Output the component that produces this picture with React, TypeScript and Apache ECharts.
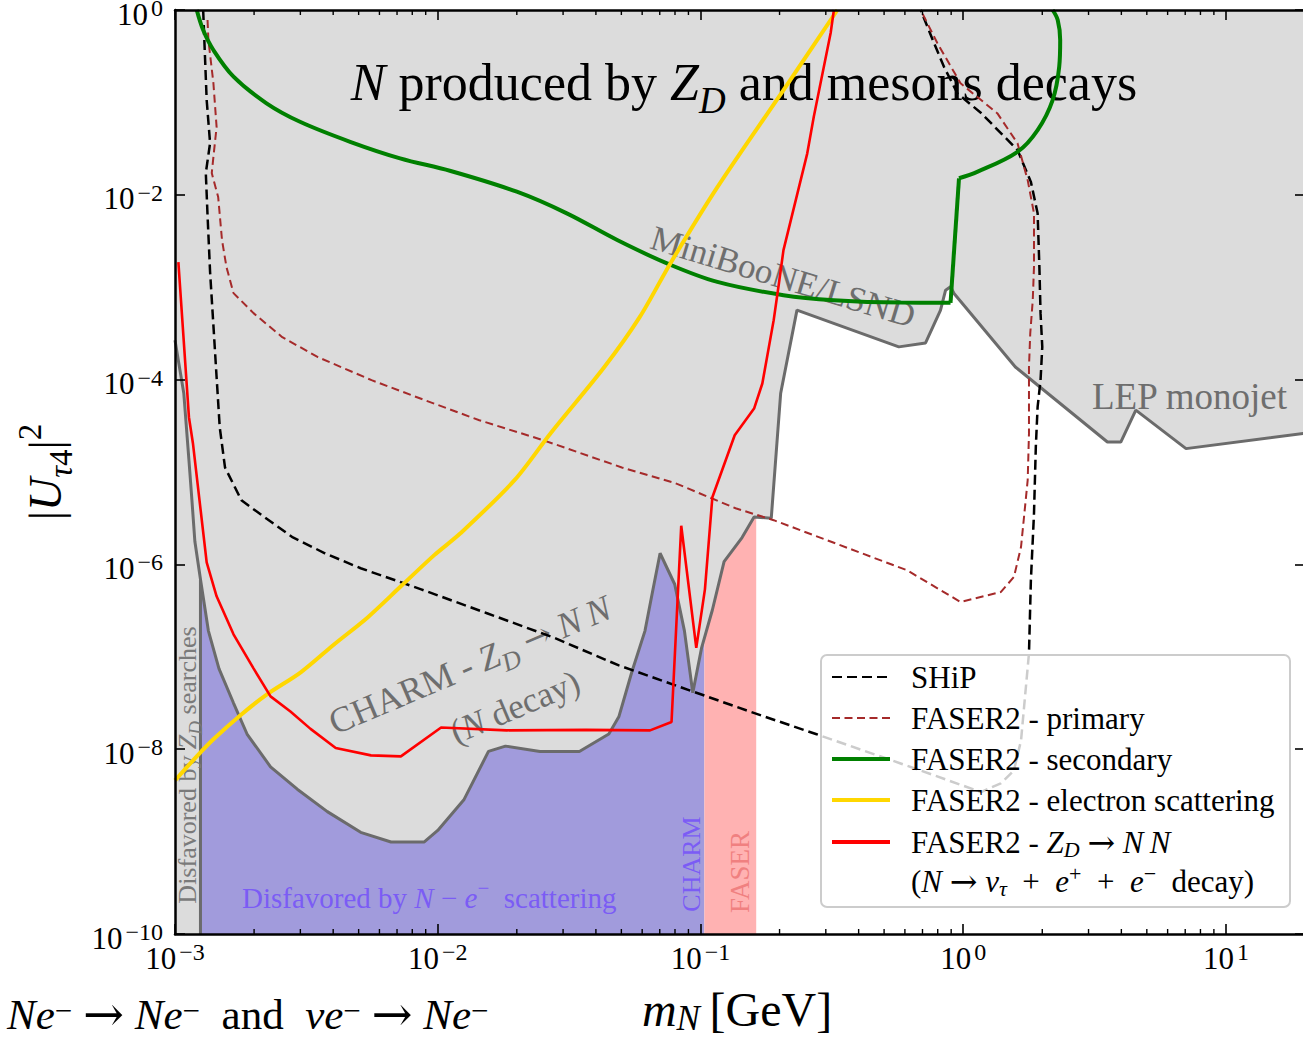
import React, { useEffect, useRef } from "react";
import * as echarts from "echarts";

const FONT = '"Liberation Serif", "DejaVu Serif", "Times New Roman", serif';
const ARROW_FONT = '"DejaVu Serif", "DejaVu Sans", serif';

// ---------------- axes ----------------
const xRange = [1e-3, 20];
const yRange = [1e-10, 1];
const xTickExponents = [-3, -2, -1, 0, 1];
const yTickExponents = [-10, -8, -6, -4, -2, 0];
const xMinorTicks = [
  2e-3, 3e-3, 4e-3, 5e-3, 6e-3, 7e-3, 8e-3, 9e-3,
  2e-2, 3e-2, 4e-2, 5e-2, 6e-2, 7e-2, 8e-2, 9e-2,
  0.2, 0.3, 0.4, 0.5, 0.6, 0.7, 0.8, 0.9,
  2, 3, 4, 5, 6, 7, 8, 9,
];

// ---------------- excluded region boundary (gray) ----------------
const boundaryM = [
  1.0e-3, 1.08e-3, 1.13e-3, 1.16e-3, 1.19e-3, 1.25e-3, 1.34e-3, 1.47e-3, 1.67e-3, 1.88e-3,
  2.31e-3, 2.92e-3, 3.8e-3, 5.09e-3, 6.64e-3, 8.89e-3, 1.0e-2, 1.26e-2, 1.56e-2, 1.81e-2,
  2.45e-2, 3.46e-2, 4.48e-2, 4.89e-2, 5.48e-2, 6.15e-2, 6.52e-2, 7.02e-2, 7.98e-2, 8.69e-2,
  9.35e-2, 1.01e-1, 1.11e-1, 1.23e-1, 1.44e-1, 1.6e-1, 1.86e-1, 2.02e-1, 2.33e-1, 5.69e-1,
  7.19e-1, 8.2e-1, 8.57e-1, 8.95e-1, 9.23e-1, 1.58, 3.54, 3.98, 4.54, 7.05, 20,
];
const boundaryU = [
  2.67e-4, 7.13e-5, 1.34e-5, 4.94e-6, 1.78e-6, 6.9e-7, 1.91e-7, 7.45e-8, 3.16e-8, 1.46e-8,
  6.44e-9, 3.69e-9, 2.11e-9, 1.26e-9, 9.91e-10, 9.91e-10, 1.32e-9, 2.86e-9, 9.46e-9, 1.08e-8,
  9.46e-9, 9.46e-9, 1.46e-8, 2.24e-8, 6.84e-8, 1.91e-7, 4.52e-7, 1.32e-6, 6.1e-7, 1.91e-7,
  4.09e-8, 1.25e-7, 3.21e-7, 1.07e-6, 1.95e-6, 3.25e-6, 3.16e-6, 7.13e-5, 5.65e-4, 2.26e-4,
  2.49e-4, 5.65e-4, 9.29e-4, 1.01e-3, 8.55e-4, 1.37e-4, 2.11e-5, 2.11e-5, 4.67e-5, 1.79e-5, 2.63e-5,
];
// edges of the shaded bands below the boundary
const zdEdge = [1.25e-3, 6.9e-7];
const charmEdge = [1.035e-1, 1.64e-7];
const faserEdge = [1.63e-1, 3.25e-6];

// ---------------- sensitivity curves ----------------
const shipM = [
  1.28e-3, 1.32e-3, 1.36e-3, 1.31e-3, 1.33e-3, 1.36e-3, 1.4e-3, 1.44e-3, 1.48e-3, 1.55e-3,
  1.79e-3, 2.19e-3, 2.81e-3, 3.72e-3, 5.09e-3, 6.55e-3, 8.65e-3, 1.54e-2, 2.74e-2, 4.89e-2,
  9.23e-2, 1.55e-1, 2.75e-1, 5.78e-1, 1.17, 1.39, 1.56, 1.66, 1.78, 1.81,
  1.86, 1.89, 1.92, 1.97, 2.0, 1.97, 1.95, 1.92, 1.81, 1.61,
  1.17, 9.51e-1, 8.45e-1, 7.74e-1, 6.89e-1,
];
const shipU = [
  1, 1.06e-1, 3.63e-2, 1.72e-2, 6.03e-3, 1.46e-3, 3.88e-4, 1.06e-4, 3.05e-5, 1.12e-5,
  4.94e-6, 3.24e-6, 1.96e-6, 1.32e-6, 9.08e-7, 7.08e-7, 5.37e-7, 2.96e-7, 1.63e-7, 8.07e-8,
  4.27e-8, 2.54e-8, 1.46e-8, 7.01e-9, 3.44e-9, 4.27e-9, 5.89e-9, 1.24e-8, 1.09e-7, 6.73e-7,
  3.55e-6, 1.87e-5, 5.06e-5, 9.86e-5, 2.26e-4, 5.24e-4, 1.66e-3, 6.3e-3, 1.38e-2, 3.05e-2,
  7.67e-2, 1.25e-1, 2.43e-1, 4.4e-1, 1,
];

const primM = [
  1.33e-3, 1.34e-3, 1.4e-3, 1.44e-3, 1.4e-3, 1.38e-3, 1.46e-3, 1.51e-3, 1.57e-3, 1.67e-3,
  1.99e-3, 2.56e-3, 3.5e-3, 5.6e-3, 8.95e-3, 1.44e-2, 2.52e-2, 5.02e-2, 8.04e-2, 1.36e-1,
  1.9e-1, 6.12e-1, 9.77e-1, 1.39, 1.56, 1.66, 1.76, 1.78, 1.78, 1.8,
  1.84, 1.86, 1.86, 1.76, 1.61, 1.35, 9.77e-1, 7.98e-1, 6.89e-1,
];
const primU = [
  7.8e-1, 4.73e-1, 1.62e-1, 5.41e-2, 2.56e-2, 1.72e-2, 9.44e-3, 3.23e-3, 1.65e-3, 8.63e-4,
  5.24e-4, 2.88e-4, 1.75e-4, 9.86e-5, 5.98e-5, 3.63e-5, 2.21e-5, 1.12e-5, 7.55e-6, 4.05e-6,
  3.01e-6, 8.63e-7, 3.92e-7, 5.02e-7, 7.31e-7, 1.54e-6, 8.15e-6, 2.61e-5, 1.37e-4, 3.16e-4,
  7.24e-4, 1.66e-3, 6.3e-3, 1.44e-2, 3.61e-2, 7.6e-2, 1.61e-1, 4.36e-1, 1,
];

// secondary: smooth arc, then the straight rise at ~0.9 GeV, then the upper-right arc
const secArcM = [
  1.21e-3, 1.28e-3, 1.4e-3, 1.67e-3, 2.23e-3, 2.99e-3, 4.64e-3, 7.19e-3, 1.12e-2, 2.0e-2,
  3.1e-2, 4.82e-2, 7.46e-2, 1.16e-1, 2.07e-1, 3.22e-1, 5.78e-1, 8.95e-1,
];
const secArcU = [
  1, 6.07e-1, 3.69e-1, 1.9e-1, 9.77e-2, 6.17e-2, 3.75e-2, 2.48e-2, 1.81e-2, 1.08e-2,
  6.3e-3, 3.24e-3, 1.81e-3, 1.14e-3, 8.2e-4, 7.24e-4, 6.81e-4, 6.78e-4,
];
const secRiseM = [8.95e-1, 9.64e-1];
const secRiseU = [6.78e-4, 1.51e-2];
const secLoopM = [9.64e-1, 1.13, 1.61, 1.92, 2.19, 2.32, 2.34, 2.29, 2.19];
const secLoopU = [1.51e-2, 1.77e-2, 2.92e-2, 5.02e-2, 1.06e-1, 2.43e-1, 4.73e-1, 7.8e-1, 1];

const elecM = [
  1.0e-3, 1.21e-3, 1.4e-3, 1.77e-3, 2.24e-3, 3.01e-3, 4.03e-3, 5.41e-3, 7.24e-3, 9.7e-3,
  1.22e-2, 1.96e-2, 2.69e-2, 4.3e-2, 5.87e-2, 7.69e-2, 1.16e-1, 2.07e-1, 3.32e-1,
];
const elecU = [
  4.59e-9, 8.36e-9, 1.28e-8, 2.32e-8, 3.92e-8, 6.79e-8, 1.36e-7, 2.67e-7, 5.79e-7, 1.26e-6,
  2.17e-6, 8.15e-6, 2.63e-5, 1.36e-4, 4.74e-4, 1.82e-3, 1.21e-2, 1.36e-1, 1,
];

const zdnnM = [
  1.03e-3, 1.13e-3, 1.17e-3, 1.32e-3, 1.44e-3, 1.67e-3, 1.99e-3, 2.31e-3, 2.75e-3, 3.28e-3,
  4.09e-3, 5.57e-3, 7.24e-3, 1.03e-2, 1.83e-2, 3.66e-2, 6.43e-2, 7.76e-2, 8.45e-2, 9.64e-2,
  1.04e-1, 1.11e-1, 1.35e-1, 1.6e-1, 1.72e-1, 1.9e-1, 1.99e-1, 2.07e-1, 2.55e-1, 2.7e-1,
  3.13e-1, 3.22e-1,
];
const zdnnU = [
  1.87e-3, 3.92e-5, 2.05e-5, 1.05e-6, 4.52e-7, 1.75e-7, 7.5e-8, 3.73e-8, 2.56e-8, 1.66e-8,
  1.03e-8, 8.57e-9, 8.36e-9, 1.72e-8, 1.6e-8, 1.62e-8, 1.6e-8, 1.97e-8, 2.62e-6, 1.25e-7,
  5.37e-7, 5.33e-6, 2.5e-5, 4.86e-5, 9.08e-5, 4.4e-4, 1.11e-3, 2.52e-3, 2.81e-2, 7.0e-2,
  5.64e-1, 1,
];

const legendLabels = [
  "{r|SHiP}",
  "{r|FASER2 - primary}",
  "{r|FASER2 - secondary}",
  "{r|FASER2 - electron scattering}",
  "{r|FASER2 - }{i|Z}{sb|D}{r| }{ar|\u2192}{r| }{i|N\u2009N}",
];
const legendExtraLine =
  "{r|(}{i|N}{r| }{ar|\u2192}{r| }{i|\u03bd}{sb|\u03c4}{r|  +  }{i|e}{sp|+}{r|  +  }{i|e}{sp|\u2212}{r|  decay)}";

// ---------------- styles ----------------
const C = {
  grayFill: "#dcdcdc",
  grayLine: "#6b6b6b",
  purple: "#a19bdc",
  pink: "#ffb2b2",
  ship: "#000000",
  prim: "#a52a2a",
  sec: "#008000",
  elec: "#ffd700",
  red: "#ff0000",
  grayText: "#6e6e6e",
  violetText: "#7b5cf5",
  coralText: "#f08080",
};

const pts = (ms: number[], us: number[]) => ms.map((m, i) => [m, us[i]]);
const supTxt = (e: number) => (e < 0 ? "\u2212" + -e : String(e));

function mathRich(fs: number, fill: string, lhf = 1.4, arScale = 0.95) {
  const lh = Math.round(fs * lhf);
  const small = Math.round(fs * 0.72);
  const slh = Math.round(fs * 0.8);
  return {
    r: { fontFamily: FONT, fontSize: fs, lineHeight: lh, fill },
    i: { fontFamily: FONT, fontSize: fs, fontStyle: "italic", lineHeight: lh, fill },
    ar: { fontFamily: ARROW_FONT, fontSize: Math.round(fs * arScale), lineHeight: lh, fill },
    sb: { fontFamily: FONT, fontSize: small, fontStyle: "italic", lineHeight: slh, verticalAlign: "bottom", fill },
    sbr: { fontFamily: FONT, fontSize: small, lineHeight: slh, verticalAlign: "bottom", fill },
    sp: { fontFamily: FONT, fontSize: small, lineHeight: slh, verticalAlign: "top", fill },
  };
}

function textEl(x: number, y: number, text: string, fs: number, fill: string, opts: any = {}) {
  return {
    type: "text",
    x,
    y,
    rotation: opts.rotation || 0,
    z: opts.z ?? 3,
    silent: true,
    style: {
      text,
      fill,
      fontFamily: FONT,
      fontSize: fs,
      align: opts.align || "center",
      verticalAlign: "middle",
      rich: mathRich(fs, fill, opts.lhf || 1.4, opts.arScale || 0.95),
    },
  };
}

function lineSeries(name: string, data: number[][], color: string, width: number, dash: any, z: number, extra: any = {}) {
  return {
    type: "line",
    name,
    data,
    xAxisIndex: 0,
    yAxisIndex: 0,
    symbol: "none",
    showSymbol: false,
    silent: true,
    z,
    lineStyle: { color, width, type: dash || "solid" },
    ...extra,
  };
}

function fillSeries(name: string, data: number[][], color: string, origin: string) {
  return {
    type: "line",
    name,
    data,
    xAxisIndex: 0,
    yAxisIndex: 0,
    symbol: "none",
    showSymbol: false,
    silent: true,
    z: 1,
    lineStyle: { width: 0, opacity: 0 },
    areaStyle: { color, opacity: 1, origin },
  };
}

const tickRich = {
  n: { fontFamily: FONT, fontSize: 31, lineHeight: 36, color: "#000" },
  s: { fontFamily: FONT, fontSize: 24, lineHeight: 23, verticalAlign: "top", color: "#000", padding: [0, 0, 0, 3] },
};

function helperX(position: string, labels: boolean) {
  return {
    type: "value",
    position,
    min: xTickExponents[0],
    max: Math.log10(xRange[1]),
    interval: 1,
    z: 10,
    axisLine: { show: true, onZero: false, lineStyle: { color: "#000", width: 2.5 } },
    axisTick: { show: true, inside: true, length: 10, lineStyle: { color: "#000", width: 1.6 } },
    splitLine: { show: false },
    axisLabel: {
      show: labels,
      margin: 6,
      showMaxLabel: false,
      showMinLabel: true,
      formatter: (v: number) => `{n|10}{s|${supTxt(Math.round(v))}}`,
      rich: tickRich,
    },
  };
}

function helperY(position: string, labels: boolean) {
  return {
    type: "value",
    position,
    min: yTickExponents[0],
    max: yTickExponents[yTickExponents.length - 1],
    interval: yTickExponents[1] - yTickExponents[0],
    z: 10,
    axisLine: { show: true, onZero: false, lineStyle: { color: "#000", width: 2.5 } },
    axisTick: { show: true, inside: true, length: 10, lineStyle: { color: "#000", width: 1.6 } },
    splitLine: { show: false },
    axisLabel: {
      show: labels,
      margin: 12,
      padding: [8, 0, 0, 0],
      showMaxLabel: true,
      showMinLabel: true,
      formatter: (v: number) => `{n|10}{s|${supTxt(Math.round(v))}}`,
      rich: tickRich,
    },
  };
}

function buildOption() {
  const boundary = pts(boundaryM, boundaryU);
  const purpleData = [
    ...boundary.filter(([m]) => m >= zdEdge[0] && m < charmEdge[0]),
    charmEdge,
  ];
  const pinkData = [
    charmEdge,
    ...boundary.filter(([m]) => m > charmEdge[0] && m < faserEdge[0]),
    faserEdge,
  ];
  const zdStrip = [
    [xRange[0], yRange[1]],
    [zdEdge[0], yRange[1]],
  ];
  const zdLine = [zdEdge, [zdEdge[0], yRange[0]]];

  const styles = [
    { color: C.ship, width: 2.5, dash: [10, 5] },
    { color: C.prim, width: 2, dash: [8, 4.5] },
    { color: C.sec, width: 4, dash: null },
    { color: C.elec, width: 4, dash: null },
    { color: C.red, width: 2.6, dash: null },
  ];

  const legendRowsY = [677, 718, 759, 800, 842];
  const legendEls: any[] = [
    {
      type: "rect",
      z: 20,
      silent: true,
      shape: { x: 821, y: 655, width: 469, height: 252, r: 6 },
      style: { fill: "rgba(255,255,255,0.8)", stroke: "#cccccc", lineWidth: 2 },
    },
  ];
  styles.forEach((s, i) => {
    legendEls.push({
      type: "line",
      z: 21,
      silent: true,
      shape: { x1: 832, y1: legendRowsY[i], x2: 890, y2: legendRowsY[i] },
      style: { stroke: s.color, lineWidth: s.dash ? 2.2 : 4, lineDash: s.dash || null },
    });
    legendEls.push(textEl(911, legendRowsY[i], legendLabels[i], 31, "#000", { align: "left", z: 21, lhf: 1.2, arScale: 1.05 }));
  });
  legendEls.push(textEl(911, 881, legendExtraLine, 31, "#000", { align: "left", z: 21, lhf: 1.2, arScale: 1.05 }));

  const annotations = [
    textEl(744, 82, "{i|N}{r| produced by }{i|Z}{sb|D}{r| and mesons decays}", 52, "#000"),
    textEl(783, 277, "{r|MiniBooNE/LSND}", 35, C.grayText, { rotation: (-16.9 * Math.PI) / 180 }),
    textEl(1092, 396, "{r|LEP monojet}", 37, C.grayText, { align: "left" }),
    textEl(470, 665, "{r|CHARM - }{i|Z}{sb|D}{r| }{ar|\u2192}{r| }{i|N\u2009N}", 36, C.grayText, { rotation: (22.9 * Math.PI) / 180 }),
    textEl(515, 707, "{r|(}{i|N}{r| decay)}", 35, C.grayText, { rotation: (22.9 * Math.PI) / 180 }),
    textEl(187, 765, "{r|Disfavored by }{i|Z}{sb|D}{r| searches}", 26, "#7a7a7a", { rotation: Math.PI / 2 }),
    textEl(242, 898, "{r|Disfavored by }{i|N}{r| \u2212 }{i|e}{sp|\u2212}{r|  scattering}", 29, C.violetText, { align: "left" }),
    textEl(691, 864, "{r|CHARM}", 26, C.violetText, { rotation: Math.PI / 2 }),
    textEl(740, 872, "{r|FASER}", 27, C.coralText, { rotation: Math.PI / 2 }),
    // axis titles
    textEl(45, 472, "{r||}{i|U}{sb|\u03c4}{sbr|4}{r||}{sp|2}", 46, "#000", { rotation: Math.PI / 2, z: 12 }),
    textEl(737, 1009, "{i|m}{sb|N}{r|\u2009[GeV]}", 48, "#000", { z: 12, lhf: 1.1 }),
    textEl(
      7,
      1014,
      "{i|Ne}{sp|\u2212}{r| }{ar|\u2192}{r| }{i|Ne}{sp|\u2212}{r|  and  }{i|\u03bde}{sp|\u2212}{r| }{ar|\u2192}{r| }{i|Ne}{sp|\u2212}",
      43,
      "#000",
      { align: "left", z: 12, lhf: 0.9, arScale: 1.15 }
    ),
  ];

  return {
    animation: false,
    backgroundColor: "#ffffff",
    grid: { left: 175, top: 10, right: -2, bottom: 105, containLabel: false, outerBoundsMode: "none" },
    xAxis: [
      { type: "log", logBase: 10, min: xRange[0], max: xRange[1], show: false, position: "bottom" },
      helperX("bottom", true),
      helperX("top", false),
    ],
    yAxis: [
      { type: "log", logBase: 10, min: yRange[0], max: yRange[1], show: false, position: "left" },
      helperY("left", true),
      helperY("right", false),
    ],
    series: [
      fillSeries("excluded", boundary, C.grayFill, "end"),
      fillSeries("ZD searches", zdStrip, C.grayFill, "start"),
      fillSeries("N-e scattering", purpleData, C.purple, "start"),
      fillSeries("FASER", pinkData, C.pink, "start"),
      lineSeries("boundary", boundary, C.grayLine, 3, null, 2),
      lineSeries("ZD edge", zdLine, C.grayLine, 3, null, 2),
      lineSeries("SHiP", pts(shipM, shipU), styles[0].color, styles[0].width, styles[0].dash, 4),
      lineSeries("FASER2 - primary", pts(primM, primU), styles[1].color, styles[1].width, styles[1].dash, 4),
      lineSeries("FASER2 - secondary", pts(secArcM, secArcU), styles[2].color, styles[2].width, null, 4, { smooth: 0.35 }),
      lineSeries("FASER2 - secondary rise", pts(secRiseM, secRiseU), styles[2].color, styles[2].width, null, 4),
      lineSeries("FASER2 - secondary loop", pts(secLoopM, secLoopU), styles[2].color, styles[2].width, null, 4, { smooth: 0.35 }),
      lineSeries("FASER2 - electron scattering", pts(elecM, elecU), styles[3].color, styles[3].width, null, 4, {
        smooth: 0.3,
      }),
      lineSeries("FASER2 - ZD -> NN", pts(zdnnM, zdnnU), styles[4].color, styles[4].width, null, 4),
      {
        type: "custom",
        name: "minor ticks",
        xAxisIndex: 0,
        yAxisIndex: 0,
        silent: true,
        z: 11,
        data: xMinorTicks.map((v) => [v, 1e-5]),
        renderItem: (params: any, api: any) => {
          const v = api.value(0);
          const b = api.coord([v, yRange[0]]);
          const t = api.coord([v, yRange[1]]);
          return {
            type: "group",
            children: [
              { type: "line", shape: { x1: b[0], y1: b[1], x2: b[0], y2: b[1] - 5 }, style: { stroke: "#000", lineWidth: 1.4 } },
              { type: "line", shape: { x1: t[0], y1: t[1], x2: t[0], y2: t[1] + 5 }, style: { stroke: "#000", lineWidth: 1.4 } },
            ],
          };
        },
      },
    ],
    graphic: { elements: [...annotations, ...legendEls] },
  };
}

export default function App() {
  const ref = useRef<HTMLDivElement>(null);
  useEffect(() => {
    if (!ref.current) return;
    const chart = echarts.init(ref.current, null, { renderer: "svg" });
    chart.setOption(buildOption() as any);
    return () => chart.dispose();
  }, []);
  return (
    <div
      ref={ref}
      style={{ position: "absolute", left: 0, top: 0, width: 1303, height: 1039, background: "#fff" }}
    />
  );
}
